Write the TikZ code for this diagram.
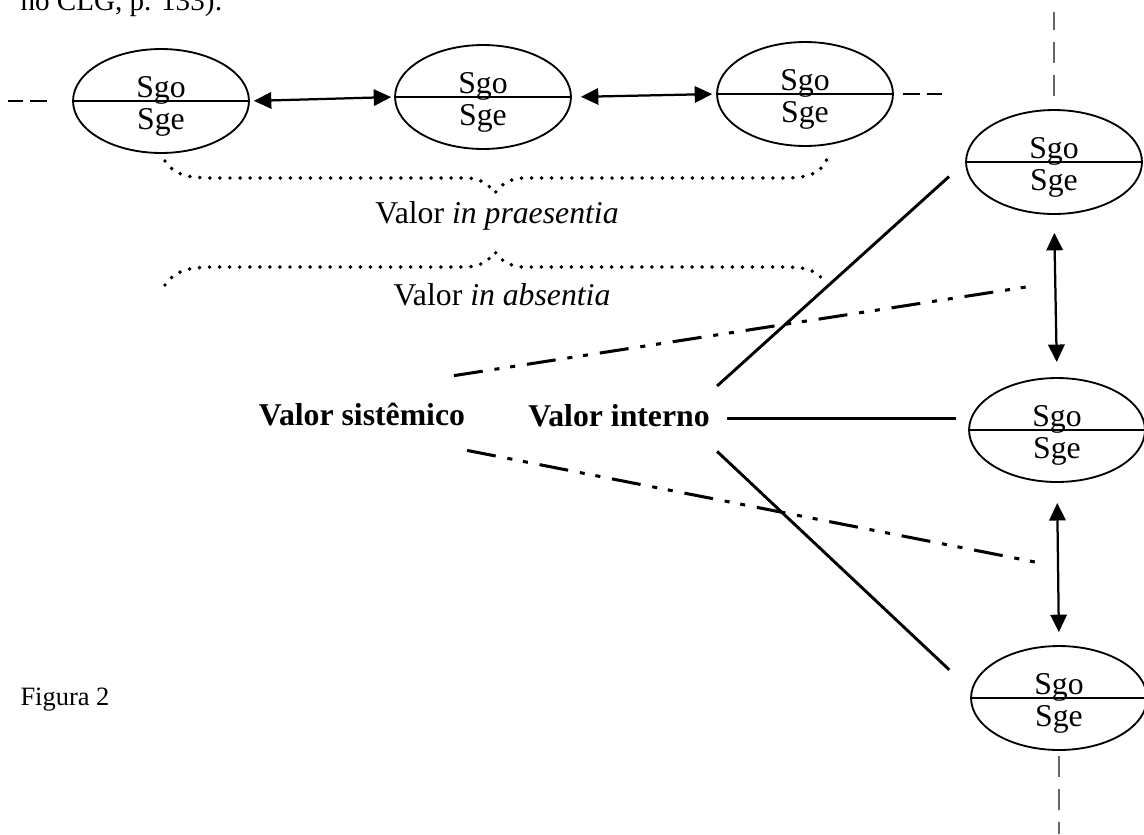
\documentclass[tikz,border=0pt]{standalone}
\usepackage{fontspec}
\setmainfont{Liberation Serif}
\usetikzlibrary{arrows.meta,shapes.geometric}

\begin{document}
\begin{tikzpicture}[x=0.378pt,y=-0.378pt,sign/.style={ellipse,draw,line width=0.7pt,minimum width=66.5pt,minimum height=39.3pt,inner sep=0pt,path picture={\draw[line width=0.7pt] (path picture bounding box.west) -- (path picture bounding box.east);}},sg/.style={anchor=base,inner sep=0pt,font=\fontsize{12}{14}\selectfont},lbl/.style={anchor=base,inner sep=0pt,font=\fontsize{12}{14}\selectfont},valor/.style={anchor=base,inner xsep=2.6pt,inner ysep=6.6pt,text depth=2.8pt,font=\fontsize{12}{14}\selectfont\bfseries},arr/.style={{Triangle[length=6.6pt,width=6.2pt]}-{Triangle[length=6.6pt,width=6.2pt]},line width=0.85pt},link/.style={line width=1.1pt},dashdot/.style={line width=1.15pt,dash pattern=on 11pt off 4.5pt on 1.9pt off 4.1pt on 1.9pt off 4.5pt},brace/.style={line width=1.5pt,line cap=round,dash pattern=on 0pt off 3.8pt},hdash/.style={line width=0.6pt,dash pattern=on 6.4pt off 2.6pt},vdash/.style={line width=0.6pt,draw=black!60,dash pattern=on 8pt off 4.5pt}]
\useasboundingbox (0,0) rectangle (1144,834);
\node[lbl,font=\fontsize{11}{13}\selectfont,anchor=base west] (clg) at (20,10) {no CLG, p. 133):};
% syntagmatic axis
\node[sign] (signL) at (161,101) {};
\node[sg] (signLgo) at ([yshift=1.5pt]signL.center) {Sgo};
\node[sg] (signLge) at ([yshift=-10.6pt]signL.center) {Sge};
\node[sign] (signM) at (483,97) {};
\node[sg] (signMgo) at ([yshift=1.5pt]signM.center) {Sgo};
\node[sg] (signMge) at ([yshift=-10.6pt]signM.center) {Sge};
\node[sign] (signR) at (805,94) {};
\node[sg] (signRgo) at ([yshift=1.5pt]signR.center) {Sgo};
\node[sg] (signRge) at ([yshift=-10.6pt]signR.center) {Sge};
% paradigmatic axis
\node[sign] (signT) at (1054,162) {};
\node[sg] (signTgo) at ([yshift=1.5pt]signT.center) {Sgo};
\node[sg] (signTge) at ([yshift=-10.6pt]signT.center) {Sge};
\node[sign] (signC) at (1057,430) {};
\node[sg] (signCgo) at ([yshift=1.5pt]signC.center) {Sgo};
\node[sg] (signCge) at ([yshift=-10.6pt]signC.center) {Sge};
\node[sign] (signB) at (1059,698) {};
\node[sg] (signBgo) at ([yshift=1.5pt]signB.center) {Sgo};
\node[sg] (signBge) at ([yshift=-10.6pt]signB.center) {Sge};
\draw[arr,shorten <=1.5pt,shorten >=1.1pt] (signL.east) -- (signM.west);
\draw[arr,shorten <=3.4pt,shorten >=1.5pt] (signM.east) -- (signR.west);
\draw[arr,shorten <=6.8pt,shorten >=5.7pt] (signT.south) -- (signC.north);
\draw[arr,shorten <=7.6pt,shorten >=4.9pt] (signC.south) -- (signB.north);
\coordinate (leftend) at (8,101);
\coordinate (rightend) at (942,94);
\coordinate (topend) at (1054,12);
\coordinate (bottomend) at (1059,834);
\draw[hdash,shorten <=9.5pt] (signL.west) -- (leftend);
\draw[hdash,shorten <=3.4pt] (signR.east) -- (rightend);
\draw[vdash,shorten <=4.9pt] (signT.north) -- (topend);
\draw[vdash,shorten <=1.9pt] (signB.south) -- (bottomend);
% braces
\draw[brace] (165,161) .. controls (175,176) and (190,178) .. (215,178) -- (465,178) .. controls (482,178) and (490,186) .. (495,193) .. controls (500,186) and (508,178) .. (525,178) -- (785,178) .. controls (810,178) and (822,172) .. (827,159);
\node[lbl] (praes) at (497,223) {Valor \textit{in praesentia}};
\draw[brace] (165,285) .. controls (175,270) and (190,267) .. (215,267) -- (465,267) .. controls (482,267) and (490,259) .. (495,252) .. controls (500,259) and (508,267) .. (525,267) -- (785,267) .. controls (808,267) and (818,272) .. (823,280);
\node[lbl] (absen) at (502,305) {Valor \textit{in absentia}};
% values
\node[valor] (sistemico) at (362,425) {Valor sistêmico};
\node[valor] (interno) at (619,426) {Valor interno};
\draw[link,shorten >=8.2pt] (interno.north east) -- (signT.west);
\draw[link,shorten <=3.8pt,shorten >=4.5pt] (interno.east) -- (interno.east -| signC.west);
\draw[link,shorten >=11.3pt] (interno.south east) -- (signB.175);
\coordinate (absTop) at (1026,287);
\coordinate (absBot) at (1035,562);
\draw[dashdot] ([shift={(-7pt,3.4pt)}]sistemico.north east) -- (absTop);
\draw[dashdot] ([xshift=-2pt]sistemico.south east) -- (absBot);
\node[lbl,font=\fontsize{10}{12}\selectfont,anchor=base west] (figura) at (20,705) {Figura 2};
\end{tikzpicture}
\end{document}
